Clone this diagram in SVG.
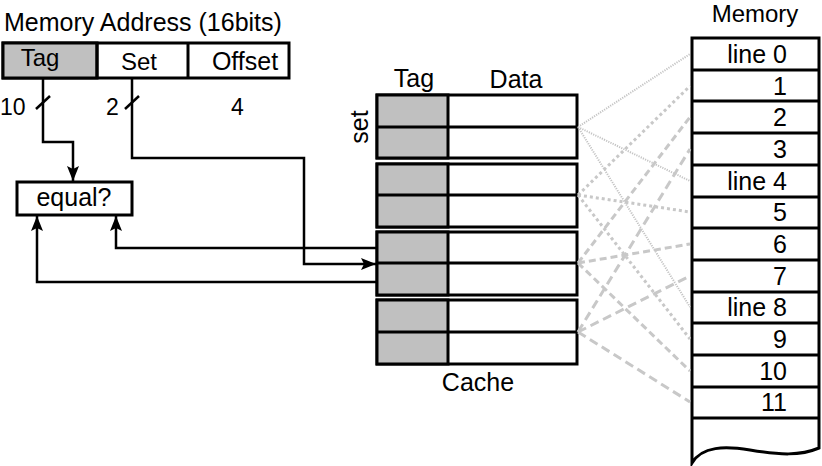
<svg xmlns="http://www.w3.org/2000/svg" width="822" height="466" viewBox="0 0 822 466">
<defs>
<style>
text{font-family:"Liberation Sans",Arial,sans-serif;font-size:25px;fill:#000}
.sm{font-size:23px}
.md{font-size:24px}
.box{fill:#fff;stroke:#000;stroke-width:3}
.tag{fill:#c0c0c0;stroke:#000;stroke-width:3}
.ln{fill:none;stroke:#000;stroke-width:3}
.w{fill:none;stroke:#000;stroke-width:2.5}
.s0{fill:none;stroke:#c4c4c4;stroke-width:2;stroke-dasharray:1.2 1.2}
.s1{fill:none;stroke:#c8c8c8;stroke-width:3;stroke-dasharray:3 3}
.s2{fill:none;stroke:#c8c8c8;stroke-width:3;stroke-dasharray:7 4}
.s3{fill:none;stroke:#c8c8c8;stroke-width:3;stroke-dasharray:9 5}
.m{text-anchor:end}
.c{text-anchor:middle}
</style>
<marker id="arr" markerUnits="userSpaceOnUse" markerWidth="16" markerHeight="12" refX="15" refY="6" orient="auto">
<path d="M0,0 L15,6 L0,12 L3,6 z" fill="#000"/>
</marker>
</defs>
<rect width="822" height="466" fill="#fff"/>

<g id="address">
<text x="4" y="31">Memory Address (16bits)</text>
<rect class="box" x="3" y="43" width="286" height="35"/>
<rect class="tag" x="3" y="43" width="94" height="35"/>
<line class="ln" x1="97" y1="43" x2="97" y2="78"/>
<line class="ln" x1="188" y1="43" x2="188" y2="78"/>
<text class="c md" x="40" y="66">Tag</text>
<text class="c md" x="139" y="70">Set</text>
<text class="c" x="245" y="70">Offset</text>
<text class="sm" x="0" y="115">10</text>
<text class="sm" x="106" y="115">2</text>
<text class="sm" x="231" y="115">4</text>
</g>

<g id="equal">
<rect class="box" x="17" y="182" width="115" height="33" stroke-width="2.5"/>
<text class="c" x="74" y="206">equal?</text>
</g>

<g id="cache">
<text class="c" x="414" y="87">Tag</text>
<text class="c" x="516" y="88">Data</text>
<text class="c" transform="translate(368,127) rotate(-90)">set</text>
<text class="c" x="478" y="391">Cache</text>
</g>
<g id="set0">
<rect class="box" x="377" y="95" width="200" height="63"/>
<rect class="tag" x="377" y="95" width="71" height="63"/>
<line class="ln" x1="377" y1="127" x2="577" y2="127"/>
</g>
<g id="set1">
<rect class="box" x="377" y="164" width="200" height="63"/>
<rect class="tag" x="377" y="164" width="71" height="63"/>
<line class="ln" x1="377" y1="195" x2="577" y2="195"/>
</g>
<g id="set2">
<rect class="box" x="377" y="232" width="200" height="63"/>
<rect class="tag" x="377" y="232" width="71" height="63"/>
<line class="ln" x1="377" y1="263" x2="577" y2="263"/>
</g>
<g id="set3">
<rect class="box" x="377" y="300" width="200" height="64"/>
<rect class="tag" x="377" y="300" width="71" height="64"/>
<line class="ln" x1="377" y1="332" x2="577" y2="332"/>
</g>

<g id="memory">
<text class="c md" x="755" y="22">Memory</text>
<path class="box" d="M692,38 L819,38 L819,448 C800,456 780,455 750,450 C725,446 702,446 692,463 Z"/>
<g class="ln">
<line x1="692" y1="70" x2="819" y2="70"/>
<line x1="692" y1="101" x2="819" y2="101"/>
<line x1="692" y1="133" x2="819" y2="133"/>
<line x1="692" y1="165" x2="819" y2="165"/>
<line x1="692" y1="197" x2="819" y2="197"/>
<line x1="692" y1="228" x2="819" y2="228"/>
<line x1="692" y1="260" x2="819" y2="260"/>
<line x1="692" y1="292" x2="819" y2="292"/>
<line x1="692" y1="323" x2="819" y2="323"/>
<line x1="692" y1="355" x2="819" y2="355"/>
<line x1="692" y1="387" x2="819" y2="387"/>
<line x1="692" y1="418" x2="819" y2="418"/>
</g>
<text class="m" x="787" y="63">line 0</text>
<text class="m" x="787" y="95">1</text>
<text class="m" x="787" y="126">2</text>
<text class="m" x="787" y="158">3</text>
<text class="m" x="787" y="190">line 4</text>
<text class="m" x="787" y="221">5</text>
<text class="m" x="787" y="253">6</text>
<text class="m" x="787" y="285">7</text>
<text class="m" x="787" y="316">line 8</text>
<text class="m" x="787" y="348">9</text>
<text class="m" x="787" y="380">10</text>
<text class="m" x="787" y="411">11</text>
</g>

<g id="connectors">
<line class="s0" x1="578" y1="127" x2="690" y2="54"/>
<line class="s0" x1="578" y1="127" x2="690" y2="181"/>
<line class="s0" x1="578" y1="127" x2="690" y2="307"/>
<line class="s1" x1="578" y1="195" x2="690" y2="86"/>
<line class="s1" x1="578" y1="195" x2="690" y2="212"/>
<line class="s1" x1="578" y1="195" x2="690" y2="339"/>
<line class="s2" x1="578" y1="263" x2="690" y2="117"/>
<line class="s2" x1="578" y1="263" x2="690" y2="244"/>
<line class="s2" x1="578" y1="263" x2="690" y2="371"/>
<line class="s3" x1="578" y1="332" x2="690" y2="149"/>
<line class="s3" x1="578" y1="332" x2="690" y2="276"/>
<line class="s3" x1="578" y1="332" x2="690" y2="402"/>
<line class="w" x1="36" y1="109" x2="50" y2="96"/>
<line class="w" x1="125" y1="109" x2="139" y2="96"/>
<path class="w" d="M43,78 L43,142 L73,142 L73,181" marker-end="url(#arr)"/>
<path class="w" d="M132,78 L132,158 L304,158 L304,264 L376,264" marker-end="url(#arr)"/>
<path class="w" d="M377,248 L116,248 L116,216" marker-end="url(#arr)"/>
<path class="w" d="M377,282 L37,282 L37,216" marker-end="url(#arr)"/>
</g>
</svg>
